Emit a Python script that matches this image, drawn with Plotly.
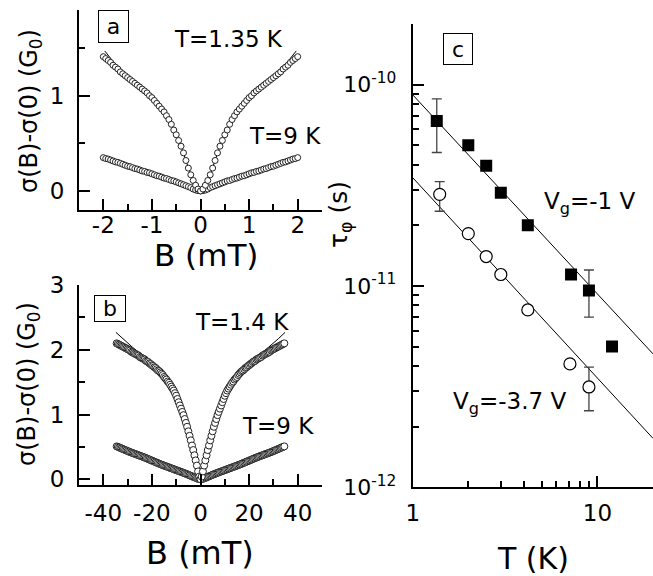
import plotly.graph_objects as go
import math

# ---------------- data: panel a (B in mT, sigma(B)-sigma(0) in G0) ----------------
B_a = [-2.00,-1.95,-1.90,-1.85,-1.80,-1.75,-1.70,-1.65,-1.60,-1.55,-1.50,-1.45,-1.40,-1.35,-1.30,
       -1.25,-1.20,-1.15,-1.10,-1.05,-1.00,-0.95,-0.90,-0.85,-0.80,-0.75,-0.70,-0.65,-0.60,-0.55,
       -0.50,-0.45,-0.40,-0.35,-0.30,-0.25,-0.20,-0.15,-0.10,-0.05,0.00,0.05,0.10,0.15,0.20,0.25,
       0.30,0.35,0.40,0.45,0.50,0.55,0.60,0.65,0.70,0.75,0.80,0.85,0.90,0.95,1.00,1.05,1.10,1.15,
       1.20,1.25,1.30,1.35,1.40,1.45,1.50,1.55,1.60,1.65,1.70,1.75,1.80,1.85,1.90,1.95,2.00]
S_a_135K = [1.41,1.39,1.37,1.35,1.32,1.30,1.28,1.25,1.23,1.21,1.19,1.17,1.15,1.13,1.11,1.09,1.07,
            1.05,1.03,1.00,0.98,0.95,0.92,0.89,0.86,0.83,0.79,0.75,0.70,0.64,0.59,0.53,0.47,0.40,
            0.32,0.24,0.17,0.11,0.06,0.02,0.00,0.02,0.06,0.11,0.17,0.24,0.32,0.40,0.47,0.53,0.59,
            0.64,0.70,0.75,0.79,0.83,0.86,0.89,0.92,0.95,0.98,1.00,1.03,1.05,1.07,1.09,1.11,1.13,
            1.15,1.17,1.19,1.21,1.23,1.25,1.28,1.30,1.32,1.35,1.37,1.39,1.41]
S_a_9K = [0.350,0.340,0.335,0.325,0.315,0.305,0.300,0.290,0.280,0.270,0.260,0.255,0.245,0.235,
          0.230,0.220,0.210,0.205,0.195,0.190,0.180,0.170,0.160,0.155,0.145,0.135,0.130,0.120,
          0.110,0.105,0.095,0.085,0.075,0.065,0.055,0.045,0.035,0.020,0.010,0.003,0.000,0.003,
          0.010,0.020,0.035,0.045,0.055,0.065,0.075,0.085,0.095,0.105,0.110,0.120,0.130,0.135,
          0.145,0.155,0.160,0.170,0.180,0.190,0.195,0.205,0.210,0.220,0.230,0.235,0.245,0.255,
          0.260,0.270,0.280,0.290,0.300,0.305,0.315,0.325,0.335,0.340,0.350]
# fits (panel a)
B_fit_a_hi = [-1.97,-1.80,-1.50,-1.20,-1.00,-0.80,-0.60,-0.40,-0.20,-0.10,0.00,0.10,0.20,0.40,0.60,
              0.80,1.00,1.20,1.50,1.80,1.97]
F_a_135K = [1.47,1.36,1.21,1.07,0.98,0.86,0.70,0.47,0.17,0.06,0.00,0.06,0.17,0.47,0.70,0.86,0.98,
            1.07,1.21,1.36,1.47]
B_fit_a_lo = [-2.02,-1.50,-1.00,-0.50,-0.20,-0.10,0.00,0.10,0.20,0.50,1.00,1.50,2.02]
F_a_9K = [0.355,0.26,0.18,0.095,0.035,0.01,0.0,0.01,0.035,0.095,0.18,0.26,0.355]

# ---------------- data: panel b ----------------
B_b_neg = [-34.5,-34.0,-33.5,-33.0,-32.5,-32.0,-31.5,-31.0,-30.5,-30.0,-29.5,-29.0,-28.5,-28.0,
           -27.5,-27.0,-26.5,-26.0,-25.5,-25.0,-24.5,-24.0,-23.5,-23.0,-22.5,-22.0,-21.5,-21.0,
           -20.5,-20.0,-19.5,-19.0,-18.5,-18.0,-17.5,-17.0,-16.5,-16.0,-15.5,-15.0,-14.5,-14.0,
           -13.5,-13.0,-12.5,-12.0,-11.5,-11.0,-10.5,-10.0,-9.5,-9.0,-8.5,-8.0,-7.5,-7.0,-6.5,
           -6.0,-5.5,-5.0,-4.5,-4.0,-3.5,-3.0,-2.5,-2.0,-1.5,-1.0,-0.5]
B_b_pos = [0.0,0.5,1.0,1.5,2.0,2.5,3.0,3.5,4.0,4.5,5.0,5.5,6.0,6.5,7.0,7.5,8.0,8.5,9.0,9.5,10.0,
           10.5,11.0,11.5,12.0,12.5,13.0,13.5,14.0,14.5,15.0,15.5,16.0,16.5,17.0,17.5,18.0,18.5,
           19.0,19.5,20.0,20.5,21.0,21.5,22.0,22.5,23.0,23.5,24.0,24.5,25.0,25.5,26.0,26.5,27.0,
           27.5,28.0,28.5,29.0,29.5,30.0,30.5,31.0,31.5,32.0,32.5,33.0,33.5,34.0,34.5]
S_b_14K_neg = [2.10,2.09,2.08,2.07,2.06,2.05,2.04,2.03,2.02,2.01,2.00,1.99,1.97,1.96,1.95,1.94,
               1.93,1.92,1.91,1.89,1.88,1.87,1.86,1.85,1.83,1.82,1.81,1.79,1.78,1.76,1.75,1.73,
               1.72,1.70,1.68,1.67,1.65,1.63,1.61,1.58,1.56,1.54,1.51,1.49,1.46,1.43,1.40,1.37,
               1.33,1.29,1.24,1.19,1.14,1.09,1.04,0.99,0.93,0.87,0.81,0.74,0.67,0.60,0.52,0.45,
               0.37,0.29,0.21,0.12,0.04]
S_b_14K_pos = [0.00,0.04,0.12,0.21,0.29,0.37,0.45,0.52,0.60,0.67,0.74,0.81,0.87,0.93,0.99,1.04,
               1.09,1.14,1.19,1.24,1.29,1.33,1.37,1.40,1.43,1.46,1.49,1.51,1.54,1.56,1.58,1.61,
               1.63,1.65,1.67,1.68,1.70,1.72,1.73,1.75,1.76,1.78,1.79,1.81,1.82,1.83,1.85,1.86,
               1.87,1.88,1.89,1.91,1.92,1.93,1.94,1.95,1.96,1.97,1.99,2.00,2.01,2.02,2.03,2.04,
               2.05,2.06,2.07,2.08,2.09,2.10]
S_b_9K_neg = [0.507,0.499,0.491,0.483,0.475,0.467,0.459,0.451,0.443,0.435,0.427,0.419,0.412,0.405,
              0.398,0.391,0.384,0.377,0.370,0.363,0.356,0.349,0.342,0.335,0.327,0.319,0.311,0.303,
              0.295,0.287,0.279,0.271,0.263,0.255,0.247,0.239,0.231,0.224,0.217,0.210,0.203,0.196,
              0.189,0.182,0.175,0.168,0.161,0.154,0.147,0.140,0.133,0.126,0.119,0.112,0.105,0.098,
              0.091,0.084,0.076,0.068,0.060,0.052,0.044,0.036,0.028,0.020,0.012,0.006,0.002]
S_b_9K_pos = [0.000,0.002,0.006,0.012,0.020,0.028,0.036,0.044,0.052,0.060,0.068,0.076,0.084,0.091,
              0.098,0.105,0.112,0.119,0.126,0.133,0.140,0.147,0.154,0.161,0.168,0.175,0.182,0.189,
              0.196,0.203,0.210,0.217,0.224,0.231,0.239,0.247,0.255,0.263,0.271,0.279,0.287,0.295,
              0.303,0.311,0.319,0.327,0.335,0.342,0.349,0.356,0.363,0.370,0.377,0.384,0.391,0.398,
              0.405,0.412,0.419,0.427,0.435,0.443,0.451,0.459,0.467,0.475,0.483,0.491,0.499,0.507]
B_fit_b_hi = [-34.8,-32,-30,-28,-26,-24,-22,-20,-18,-16,-14,-12,-10,-8,-6,-4,-2,-1,0,
              1,2,4,6,8,10,12,14,16,18,20,22,24,26,28,30,32,34.8]
F_b_14K = [2.27,2.17,2.10,2.04,1.98,1.91,1.85,1.78,1.71,1.63,1.54,1.43,1.29,1.09,0.87,0.60,0.29,0.12,0.0,
           0.12,0.29,0.60,0.87,1.09,1.29,1.43,1.54,1.63,1.71,1.78,1.85,1.91,1.98,2.04,2.10,2.17,2.27]
B_fit_b_lo = [-34.8,-25,-15,-8,-4,-2,0,2,4,8,15,25,34.8]
F_b_9K = [0.515,0.363,0.21,0.112,0.052,0.02,0,0.02,0.052,0.112,0.21,0.363,0.515]

# tick labels (panels a, b)
ticks_a_x = [-2, -1, 0, 1, 2]
ticklab_a_x = ["-2", "-1", "0", "1", "2"]
ticks_b_x = [-40, -20, 0, 20, 40]
ticklab_b_x = ["-40", "-20", "0", "20", "40"]

# ---------------- data: panel c (T in K, tau_phi in s) ----------------
T_m1 = [1.35, 2.0, 2.5, 3.0, 4.2, 7.2, 9.0, 12.0]
tau_m1 = [6.6e-11, 5.0e-11, 3.95e-11, 2.9e-11, 2.0e-11, 1.14e-11, 9.5e-12, 5.0e-12]
err_m1_plus = [1.9e-11, None, None, None, None, None, 2.5e-12, None]
err_m1_minus = [2.0e-11, None, None, None, None, None, 2.5e-12, None]
T_m37 = [1.4, 2.0, 2.5, 3.0, 4.2, 7.1, 9.0]
tau_m37 = [2.85e-11, 1.82e-11, 1.40e-11, 1.14e-11, 7.6e-12, 4.1e-12, 3.15e-12]
err_m37_plus = [0.45e-11, None, None, None, None, None, 0.8e-12]
err_m37_minus = [0.5e-11, None, None, None, None, None, 0.75e-12]
T_fit = [1.0, 20.0]
tau_fit_m1 = [8.9e-11, 4.6e-12]
tau_fit_m37 = [3.45e-11, 1.75e-12]

# ---------------- figure ----------------
W, H = 653, 576
def px(x):
    return x / W
def py(y):
    return 1 - y / H

FONT = "DejaVu Sans"
fig = go.Figure()

def curve(x, y, xa, ya, size):
    fig.add_trace(go.Scatter(x=x, y=y, mode="markers", xaxis=xa, yaxis=ya,
                             marker=dict(symbol="circle", size=size, color="white",
                                         line=dict(color="#222222", width=1))))

def fitline(x, y, xa, ya):
    fig.add_trace(go.Scatter(x=x, y=y, mode="lines", xaxis=xa, yaxis=ya,
                             line=dict(color="black", width=1)))

# panel a
fitline(B_fit_a_hi, F_a_135K, "x", "y")
fitline(B_fit_a_lo, F_a_9K, "x", "y")
curve(B_a, S_a_9K, "x", "y", 6)
curve(B_a, S_a_135K, "x", "y", 6)
# panel b
fitline(B_fit_b_hi, F_b_14K, "x2", "y2")
fitline(B_fit_b_lo, F_b_9K, "x2", "y2")
curve(B_b_neg + B_b_pos, S_b_9K_neg + S_b_9K_pos, "x2", "y2", 7)
curve(B_b_neg + B_b_pos, S_b_14K_neg + S_b_14K_pos, "x2", "y2", 7)
# panel c
fig.add_trace(go.Scatter(x=T_fit, y=tau_fit_m1, mode="lines", xaxis="x3", yaxis="y3",
                         line=dict(color="black", width=1)))
fig.add_trace(go.Scatter(x=T_fit, y=tau_fit_m37, mode="lines", xaxis="x3", yaxis="y3",
                         line=dict(color="black", width=1)))
fig.add_trace(go.Scatter(x=T_m1, y=tau_m1, mode="markers", xaxis="x3", yaxis="y3",
                         marker=dict(symbol="square", size=12, color="black",
                                     line=dict(color="black", width=0)),
                         error_y=dict(type="data", symmetric=False, array=err_m1_plus,
                                      arrayminus=err_m1_minus, color="#444444",
                                      thickness=1.3, width=5)))
fig.add_trace(go.Scatter(x=T_m37, y=tau_m37, mode="markers", xaxis="x3", yaxis="y3",
                         marker=dict(symbol="circle", size=12, color="white",
                                     line=dict(color="black", width=1.2)),
                         error_y=dict(type="data", symmetric=False, array=err_m37_plus,
                                      arrayminus=err_m37_minus, color="#444444",
                                      thickness=1.3, width=5)))

axis_common = dict(showline=True, linecolor="black", linewidth=2, ticks="inside",
                   ticklen=11, tickwidth=2, tickcolor="black", showgrid=False,
                   zeroline=False, automargin=False, tickangle=0,
                   tickfont=dict(family=FONT, size=23, color="black"))
minor_lin = lambda d: dict(dtick=d, ticks="inside", ticklen=6, tickwidth=2,
                           tickcolor="black", showgrid=False)

dom_x_ab = [px(79), px(322)]
fig.update_layout(
    xaxis=dict(axis_common, domain=dom_x_ab, anchor="y", range=[-2.5, 2.5],
               tickmode="array", tickvals=ticks_a_x, ticktext=ticklab_a_x,
               minor=minor_lin(0.5), ticklabelstandoff=-7),
    yaxis=dict(axis_common, domain=[py(210), py(10)], anchor="x", range=[-0.2, 1.9],
               dtick=1, tick0=0, minor=minor_lin(0.5), ticklabelstandoff=8),
    xaxis2=dict(axis_common, domain=dom_x_ab, anchor="y2", range=[-50, 50],
                tickmode="array", tickvals=ticks_b_x, ticktext=ticklab_b_x,
                minor=minor_lin(10), ticklabelstandoff=6),
    yaxis2=dict(axis_common, domain=[py(485), py(285)], anchor="x2", range=[-0.09, 3.002],
                dtick=1, tick0=0, minor=minor_lin(0.5), ticklabelstandoff=8),
    xaxis3=dict(axis_common, domain=[px(412.7), 1.0], anchor="y3", type="log",
                range=[0, math.log10(20)], tickmode="array", tickvals=[1, 10],
                ticktext=["1", "10"], ticklabelstandoff=4,
                minor=dict(tickmode="array", tickvals=[2, 3, 4, 5, 6, 7, 8, 9, 20],
                           ticks="inside", ticklen=6, tickwidth=2, tickcolor="black",
                           showgrid=False)),
    yaxis3=dict(axis_common, domain=[py(487.3), py(24)], anchor="x3", type="log",
                range=[-12, math.log10(2e-10)], tickmode="array",
                tickvals=[1e-12, 1e-11, 1e-10],
                ticktext=["10<sup>-12</sup>", "10<sup>-11</sup>", "10<sup>-10</sup>"],
                tickfont=dict(family=FONT, size=22, color="black"), ticklabelstandoff=10,
                minor=dict(tickmode="array",
                           tickvals=[2e-12, 3e-12, 4e-12, 5e-12, 6e-12, 7e-12, 8e-12, 9e-12,
                                     2e-11, 3e-11, 4e-11, 5e-11, 6e-11, 7e-11, 8e-11, 9e-11,
                                     2e-10],
                           ticks="inside", ticklen=6, tickwidth=2, tickcolor="black",
                           showgrid=False)),
    width=W, height=H, margin=dict(l=0, r=0, t=0, b=0),
    paper_bgcolor="white", plot_bgcolor="white", showlegend=False,
    font=dict(family=FONT, color="black"),
)

def label(text, x, y, size=23, angle=0, **kw):
    fig.add_annotation(text=text, x=px(x), y=py(y), xref="paper", yref="paper",
                       xanchor="center", yanchor="middle", showarrow=False,
                       textangle=angle, font=dict(family=FONT, size=size, color="black"), **kw)

# axis titles
label("B (mT)", 206, 255, size=31)
label("B (mT)", 200, 553, size=32)
label("T (K)", 533, 558, size=30)
label("σ(B)-σ(0) (G<sub>0</sub>)", 30, 111, size=24, angle=-90)
label("σ(B)-σ(0) (G<sub>0</sub>)", 28, 384, size=24, angle=-90)
label("τ<sub>φ</sub> (s)", 340, 215, size=25, angle=-90)

# curve labels
label("T=1.35 K", 229, 39)
label("T=9 K", 285, 136)
label("T=1.4 K", 242, 322)
label("T=9 K", 278, 426)
label("V<sub>g</sub>=-1 V", 589, 203)
label("V<sub>g</sub>=-3.7 V", 509, 403)

# panel letters in boxes
label("a", 113.8, 26.7, size=22, bordercolor="black", borderwidth=1, borderpad=0,
      width=29, height=31)
label("b", 110, 308, size=22, bordercolor="black", borderwidth=1, borderpad=0,
      width=30, height=25)
label("c", 458.3, 49, size=22, bordercolor="black", borderwidth=1, borderpad=0,
      width=28, height=30)

fig.write_html("out.html")
